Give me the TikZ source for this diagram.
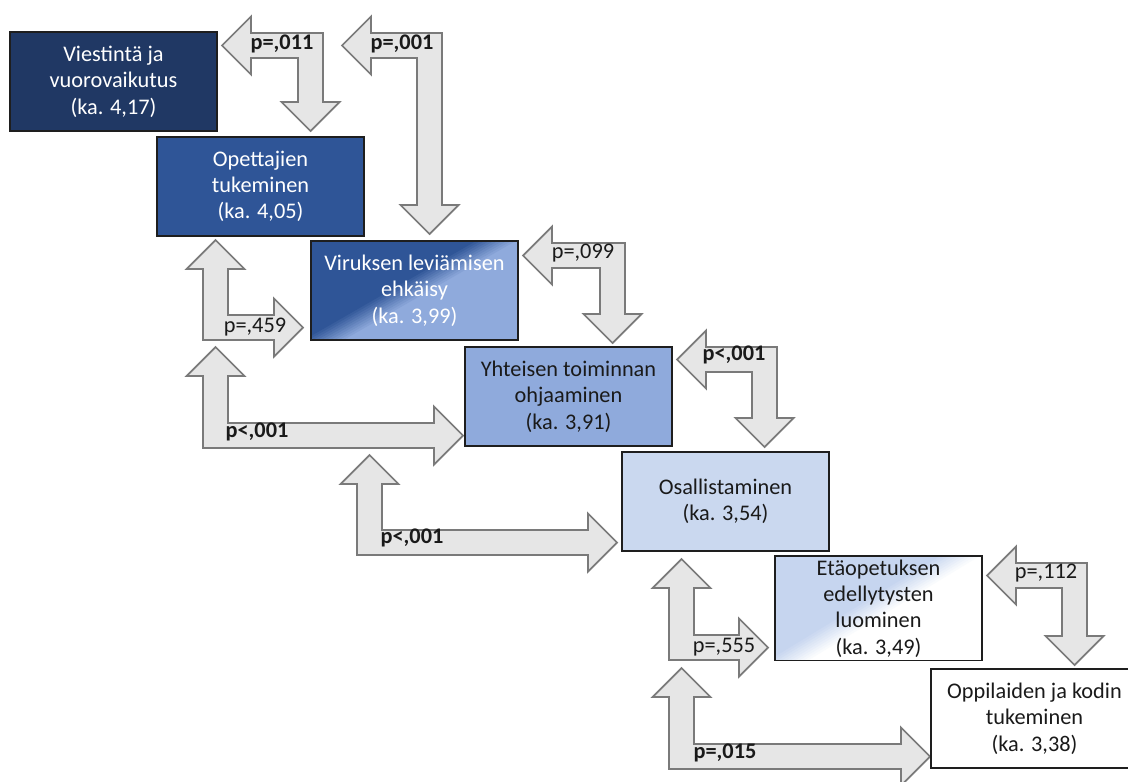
\documentclass[tikz,border=0pt]{standalone}
\usepackage{fontspec}
\setmainfont{Carlito}
\usetikzlibrary{calc}

\definecolor{navy}{HTML}{203864}
\definecolor{midblue}{HTML}{2F5597}
\definecolor{softblue}{HTML}{8FAADC}
\definecolor{paleblue}{HTML}{CAD8EF}
\definecolor{fadeblue}{HTML}{C6D5EF}
\definecolor{boxline}{HTML}{1E1E1E}
\definecolor{arrfill}{HTML}{E6E6E6}
\definecolor{arrline}{HTML}{7A7A7A}
\definecolor{ink}{HTML}{1A1A1A}

% bent block arrows, in pixels: corner, then the two tips
\newcommand{\ldarrow}[4]{% #1 right x, #2 top y, #3 left tip x, #4 lower tip y
  \draw[bigarrow] (#3,#2+12.5) -- (#3+29,#2+12.5-29) -- (#3+29,#2) -- (#1,#2)
    -- (#1,#4-29) -- (#1-12.5+29,#4-29) -- (#1-12.5,#4) -- (#1-12.5-29,#4-29)
    -- (#1-25,#4-29) -- (#1-25,#2+25) -- (#3+29,#2+25) -- (#3+29,#2+12.5+29) -- cycle;}
\newcommand{\urarrow}[4]{% #1 left x, #2 bottom y, #3 upper tip y, #4 right tip x
  \draw[bigarrow] (#1+12.5,#3) -- (#1+12.5+29,#3+29) -- (#1+25,#3+29) -- (#1+25,#2-25)
    -- (#4-29,#2-25) -- (#4-29,#2-12.5-29) -- (#4,#2-12.5) -- (#4-29,#2-12.5+29)
    -- (#4-29,#2) -- (#1,#2) -- (#1,#3+29) -- (#1+12.5-29,#3+29) -- cycle;}

\begin{document}
\begin{tikzpicture}[x=0.02cm, y=-0.02cm,
    box/.style={draw=boxline, line width=0.9pt, minimum width=4.14cm, minimum height=1.98cm,
      inner sep=2pt, outer sep=0pt, align=center, anchor=north west,
      font=\fontsize{12.7}{15}\selectfont},
    bigarrow/.style={draw=arrline, fill=arrfill, line width=1pt, line join=miter},
    plab/.style={inner sep=0pt, text=ink, font=\fontsize{12.7}{15}\selectfont},
    plabb/.style={plab, font=\fontsize{12.7}{15}\selectfont\bfseries},
    diagfill/.style 2 args={path picture={
      \fill[#2] (path picture bounding box.south west) rectangle (path picture bounding box.north east);
      \foreach \k in {9,...,0}{
        \pgfmathsetmacro\sh{-22+4.4*\k}
        \pgfmathtruncatemacro\pc{10*\k}
        \fill[#2!\pc!#1] ($(path picture bounding box.north west)+(-100,0)$)
          -- ($(path picture bounding box.north west)+(187+\sh,0)$)
          -- ($(path picture bounding box.south west)+(15+\sh,0)$)
          -- ($(path picture bounding box.south west)+(-100,0)$) -- cycle;
      }}}]
\useasboundingbox (0,0) rectangle (1128,781);
\clip (0,0) rectangle (1128,781);

% arrows
\ldarrow{323}{33}{222}{131}
\ldarrow{442}{33}{342}{234}
\ldarrow{625}{243}{523}{343}
\ldarrow{777}{347}{677}{447}
\ldarrow{1087}{563}{987}{665}
\urarrow{203}{340}{240}{303}
\urarrow{203}{448}{347}{463}
\urarrow{357}{555}{455}{617}
\urarrow{669}{660}{559}{768}
\urarrow{669}{769}{668}{930}

% boxes
\node[box, fill=navy, text=white] (viest) at (10,32) {Viestintä ja\\vuorovaikutus\\(ka. 4,17)};
\node[box, fill=midblue, text=white] (opett) at (157,137) {Opettajien\\tukeminen\\(ka. 4,05)};
\node[box, diagfill={midblue}{softblue}, text=white] (virus) at (311,241) {Viruksen leviämisen\\ehkäisy\\(ka. 3,99)};
\node[box, fill=softblue, text=ink] (yhteis) at (465,347) {Yhteisen toiminnan\\ohjaaminen\\(ka. 3,91)};
\node[box, fill=paleblue, text=ink] (osall) at (622,452) {Osallistaminen\\(ka. 3,54)};
\node[box, diagfill={fadeblue}{white}, text=ink] (etaop) at (775,556) {Etäopetuksen\\edellytysten\\luominen\\(ka. 3,49)};
\node[box, fill=white, text=ink] (oppil) at (931,669) {Oppilaiden ja kodin\\tukeminen\\(ka. 3,38)};

% p-values
\node[plabb] (p011) at (282,44) {p=,011};
\node[plabb] (p001a) at (402,44) {p=,001};
\node[plab] (p459) at (255,327) {p=,459};
\node[plabb] (p001b) at (257,432) {p<,001};
\node[plab] (p099) at (583,253) {p=,099};
\node[plabb] (p001c) at (734,355) {p<,001};
\node[plabb] (p001d) at (412,538) {p<,001};
\node[plab] (p555) at (724,647) {p=,555};
\node[plabb] (p015) at (725,753) {p=,015};
\node[plab] (p112) at (1046,573) {p=,112};
\end{tikzpicture}
\end{document}
